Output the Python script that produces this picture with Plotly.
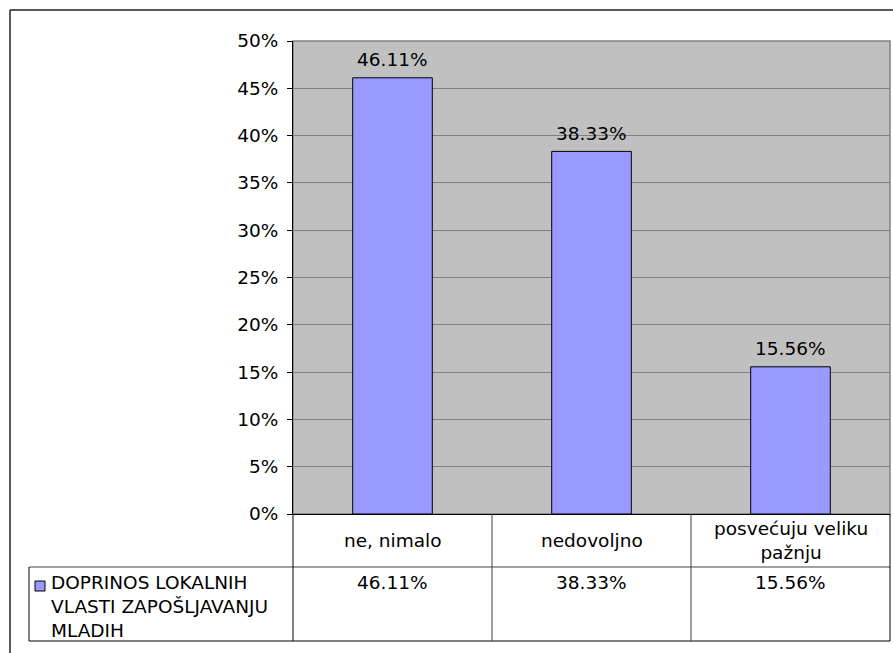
import plotly.graph_objects as go

# ---- data ----
categories = ["ne, nimalo", "nedovoljno", "posvećuju veliku<br>pažnju"]
values = [46.11, 38.33, 15.56]
series_name = "DOPRINOS LOKALNIH<br>VLASTI ZAPOŠLJAVANJU<br>MLADIH"
y_ticks = [0, 5, 10, 15, 20, 25, 30, 35, 40, 45, 50]
y_tick_labels = [f"{t}%" for t in y_ticks]

# ---- layout helpers ----
W, H = 893, 653
def px(x):
    return x / W
def py(y):
    return 1 - y / H

FONT = "DejaVu Sans"
FS = 18.5
BAR = "#9999FF"

plot_l, plot_r, plot_t, plot_b = 293, 890, 41, 514
row1_b = 567
row2_b = 641
legend_l = 29

x_pos = list(range(len(categories)))

fig = go.Figure(go.Bar(
    x=x_pos, y=values, width=0.4,
    marker=dict(color=BAR, line=dict(color="black", width=1)),
    hoverinfo="skip", name=series_name.replace("<br>", " "),
))

fig.update_layout(
    width=W, height=H,
    margin=dict(l=0, r=0, t=0, b=0, pad=0, autoexpand=False),
    paper_bgcolor="white", plot_bgcolor="#C0C0C0",
    showlegend=False,
    font=dict(family=FONT, size=FS, color="black"),
    xaxis=dict(domain=[px(plot_l), px(plot_r)], range=[-0.5, len(categories) - 0.5],
               showticklabels=False, ticks="", showgrid=False, zeroline=False, automargin=False,
               showline=True, linecolor="black", linewidth=1, fixedrange=True),
    yaxis=dict(domain=[py(plot_b), py(plot_t)], range=[0, 50], automargin=False,
               tickvals=y_ticks, ticktext=y_tick_labels,
               ticks="outside", ticklen=5, tickcolor="black", ticklabelstandoff=5,
               tickfont=dict(size=FS),
               showgrid=True, gridcolor="#808080", gridwidth=1, zeroline=False,
               showline=True, linecolor="black", linewidth=1, fixedrange=True),
)

shapes = []
# outer chart border (top and left visible)
shapes.append(dict(type="line", xref="paper", yref="paper", x0=px(10), x1=1, y0=py(10), y1=py(10),
                   line=dict(color="#222", width=1.5)))
shapes.append(dict(type="line", xref="paper", yref="paper", x0=px(10), x1=px(10), y0=py(10), y1=0,
                   line=dict(color="#222", width=1.5)))
# plot area frame (gray top/right)
shapes.append(dict(type="rect", xref="paper", yref="paper", x0=px(plot_l), x1=px(plot_r),
                   y0=py(plot_b), y1=py(plot_t), line=dict(color="#808080", width=1.5),
                   fillcolor="rgba(0,0,0,0)", layer="below"))

# data table
shapes.append(dict(type="line", xref="paper", yref="paper", x0=px(legend_l), x1=px(plot_r),
                   y0=py(row1_b), y1=py(row1_b), line=dict(color="#808080", width=1.5)))
shapes.append(dict(type="line", xref="paper", yref="paper", x0=px(legend_l), x1=px(plot_r),
                   y0=py(row2_b), y1=py(row2_b), line=dict(color="black", width=1)))
shapes.append(dict(type="line", xref="paper", yref="paper", x0=px(legend_l), x1=px(legend_l),
                   y0=py(row1_b), y1=py(row2_b), line=dict(color="black", width=1)))
shapes.append(dict(type="line", xref="paper", yref="paper", x0=px(plot_l), x1=px(plot_l),
                   y0=py(plot_b), y1=py(row2_b), line=dict(color="black", width=1)))
shapes.append(dict(type="line", xref="paper", yref="paper", x0=px(plot_r), x1=px(plot_r),
                   y0=py(plot_b), y1=py(row2_b), line=dict(color="black", width=1)))
for i in range(1, len(categories)):
    shapes.append(dict(type="line", xref="x", yref="paper", x0=i - 0.5, x1=i - 0.5,
                       y0=py(plot_b), y1=py(row2_b), line=dict(color="#404040", width=1)))
# legend key
shapes.append(dict(type="rect", xref="paper", yref="paper", x0=px(35), x1=px(45),
                   y0=py(591), y1=py(581), fillcolor=BAR, line=dict(color="black", width=1)))

annotations = []
for i, v in enumerate(values):
    annotations.append(dict(x=i, y=v, xref="x", yref="y", text=f"{v:.2f}%", showarrow=False,
                            yanchor="middle", yshift=18, font=dict(size=FS)))
for i, c in enumerate(categories):
    annotations.append(dict(x=i, y=py((plot_b + row1_b) / 2), xref="x", yref="paper", text=c,
                            showarrow=False, yanchor="middle", font=dict(size=FS)))
for i, v in enumerate(values):
    annotations.append(dict(x=i, y=py(570), xref="x", yref="paper", text=f"{v:.2f}%",
                            showarrow=False, yanchor="top", font=dict(size=FS)))
annotations.append(dict(x=px(49), y=py(570), xref="paper", yref="paper", text=series_name,
                        showarrow=False, xanchor="left", yanchor="top", align="left",
                        font=dict(size=FS)))

fig.update_layout(shapes=shapes, annotations=annotations)
fig.write_html("out.html", config={"displayModeBar": False},
               post_script="document.body.style.margin='0';document.body.style.overflow='hidden';")
